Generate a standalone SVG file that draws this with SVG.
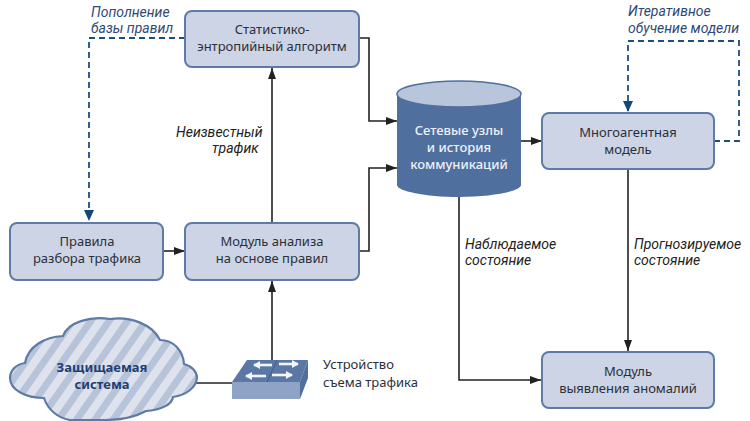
<svg xmlns="http://www.w3.org/2000/svg" width="750" height="421" viewBox="0 0 750 421">
<style>
text{font-family:"Noto Sans","Open Sans","Liberation Sans",sans-serif;font-size:13px;fill:#2b2f38;text-anchor:middle}
.box{fill:#cdd4e5;stroke:#5d7ba6;stroke-width:2}
.lab,.blab{font-family:Roboto,"Noto Sans",sans-serif;font-size:14px;font-style:italic;text-anchor:start}
.lab{fill:#222}
.blab{fill:#2f4a75}
.ln{fill:none;stroke:#222;stroke-width:1.6}
.dash{fill:none;stroke:#1c4f80;stroke-width:1.8;stroke-dasharray:6 4}
.ar{stroke:#f2f5fa;stroke-width:2.6;fill:none;marker-end:url(#w)}
</style>
<defs>
<marker id="a" markerUnits="userSpaceOnUse" markerWidth="12" markerHeight="8" refX="11" refY="4" orient="auto"><path d="M0 0L11 4L0 8Z" fill="#222"/></marker>
<marker id="b" markerUnits="userSpaceOnUse" markerWidth="12" markerHeight="10" refX="11" refY="5" orient="auto"><path d="M0 0L11 5L0 10Z" fill="#11477c"/></marker>
<marker id="w" markerUnits="userSpaceOnUse" markerWidth="8" markerHeight="8" refX="6" refY="4" orient="auto"><path d="M0 0L7 4L0 8Z" fill="#f2f5fa"/></marker>
<pattern id="h" patternUnits="userSpaceOnUse" width="15" height="15" patternTransform="rotate(35)"><rect width="15" height="15" fill="#dde2ed"/><rect width="7" height="15" fill="#b6c3d9"/></pattern>
</defs>
<g id="connectors">
<path class="dash" d="M185 38H89V221" marker-end="url(#b)"/>
<path class="dash" d="M714 141H739V41H628V112" marker-end="url(#b)"/>
<path class="ln" d="M163 251H185" marker-end="url(#a)"/>
<path class="ln" d="M272 223V68" marker-end="url(#a)"/>
<path class="ln" d="M272 360V281" marker-end="url(#a)"/>
<path class="ln" d="M359 38H369V121H397" marker-end="url(#a)"/>
<path class="ln" d="M359 251H369V168H397" marker-end="url(#a)"/>
<path class="ln" d="M521 141H542" marker-end="url(#a)"/>
<path class="ln" d="M628 169V351" marker-end="url(#a)"/>
<path class="ln" d="M459 197V380H541" marker-end="url(#a)"/>
<path class="ln" d="M196 383H233"/>
</g>
<g id="stat"><rect class="box" x="185" y="11" width="174" height="56" rx="7"/><text x="272" y="34">Статистико-</text><text x="272" y="51">энтропийный алгоритм</text></g>
<g id="rules"><rect class="box" x="10" y="223" width="153" height="57" rx="7"/><text x="87" y="246">Правила</text><text x="87" y="263">разбора трафика</text></g>
<g id="module"><rect class="box" x="185" y="223" width="174" height="57" rx="7"/><text x="272" y="246">Модуль анализа</text><text x="272" y="263">на основе правил</text></g>
<g id="model"><rect class="box" x="542" y="113" width="172" height="56" rx="7"/><text x="628" y="137">Многоагентная</text><text x="628" y="154">модель</text></g>
<g id="anomaly"><rect class="box" x="542" y="352" width="172" height="56" rx="7"/><text x="628" y="376">Модуль</text><text x="628" y="393">выявления аномалий</text></g>
<g id="db">
<path d="M397 94V185C397 191 425 197 459 197C493 197 521 191 521 185V94Z" fill="#4f6f9f"/>
<ellipse cx="459" cy="94" rx="62" ry="13" fill="#b9c5da" stroke="#4f6f9f" stroke-width="1.5"/>
<g style="font-weight:500"><text x="459" y="135" style="fill:#eef2f8">Сетевые узлы</text><text x="459" y="152" style="fill:#eef2f8">и история</text><text x="459" y="169" style="fill:#eef2f8">коммуникаций</text></g>
</g>
<g id="cloud">
<path d="M25 363C28 346 45 337 63 336C68 322 90 316 110 319C130 316 152 324 160 340C173 340 183 350 184 364C192 366 197 372 197 378C196 388 186 395 173 397C172 405 160 410 146 411C135 417 120 420 105 420H70C58 418 48 410 44 398C26 398 10 390 10 378C10 370 17 364 25 363Z" fill="url(#h)" stroke="#5d7ba6" stroke-width="2.2"/>
<g style="font-weight:700"><text x="102" y="372" style="fill:#1f3f73">Защищаемая</text><text x="102" y="389" style="fill:#1f3f73">система</text></g>
</g>
<g id="switch">
<path d="M232 382L247 360H308L300 382Z" fill="#5b78a5"/>
<path d="M232 382H300V399H232Z" fill="#8fa3c6"/>
<path d="M300 382L308 360V378L300 399Z" fill="#4f6f9f"/>
<path d="M277 360L267 382" stroke="#3f5d8c" fill="none"/>
<path class="ar" d="M272 365H254"/>
<path class="ar" d="M279 364H298"/>
<path class="ar" d="M266 376H246"/>
<path class="ar" d="M272 375H292"/>
</g>
<g id="labels">
<text class="blab" x="91" y="17">Пополнение</text>
<text class="blab" x="91" y="33">базы правил</text>
<text class="blab" x="628" y="16">Итеративное</text>
<text class="blab" x="628" y="33">обучение модели</text>
<text class="lab" x="176" y="137">Неизвестный</text>
<text class="lab" x="212" y="153">трафик</text>
<text class="lab" x="465" y="249">Наблюдаемое</text>
<text class="lab" x="465" y="265">состояние</text>
<text class="lab" x="634" y="249">Прогнозируемое</text>
<text class="lab" x="634" y="265">состояние</text>
<text x="323" y="369" style="text-anchor:start">Устройство</text>
<text x="323" y="387" style="text-anchor:start">съема трафика</text>
</g>
</svg>
